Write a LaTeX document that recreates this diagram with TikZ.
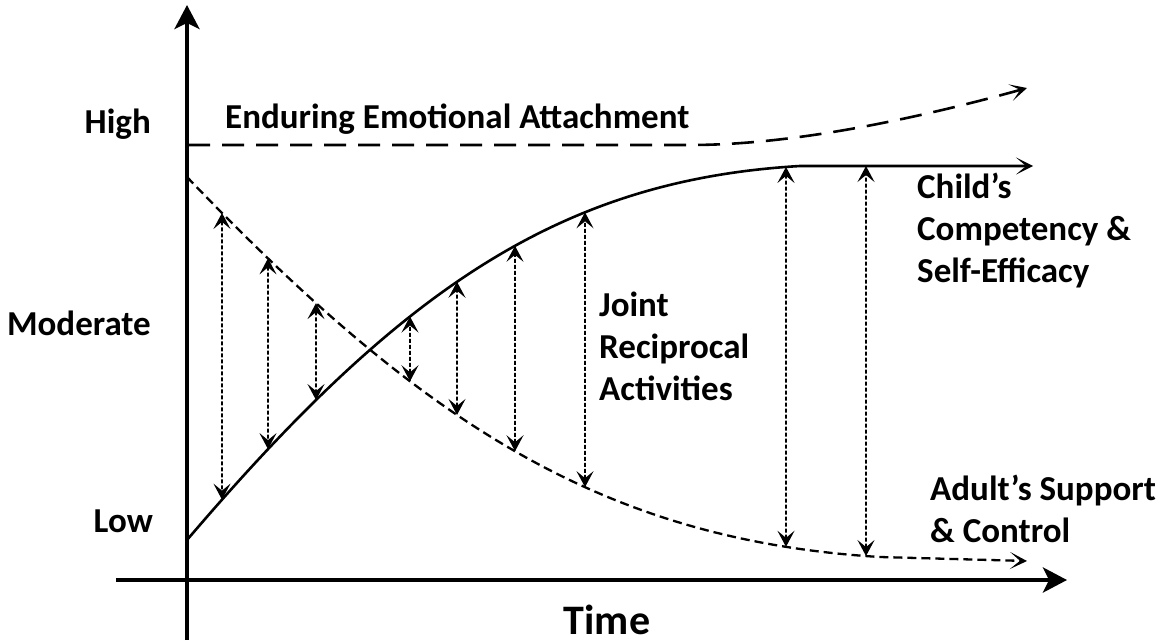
\documentclass[tikz,border=0pt]{standalone}
\usepackage{fontspec}
\setmainfont{Carlito}
\usetikzlibrary{arrows.meta,intersections}

\begin{document}
\begin{tikzpicture}[x=1pt, y=-1pt, font=\fontsize{35}{42}\selectfont\bfseries, align=left]
    \tikzstyle{every node}+=[inner sep=0pt]
    \tikzstyle{axis}=[line width=4pt, -{Stealth[length=24pt,width=25pt,inset=6pt]}]
    \tikzstyle{curve}=[line width=2.6pt, -{Stealth[length=17pt,width=17pt,inset=10pt]}]
    \tikzstyle{gap}=[line width=1.7pt, dash pattern=on 4pt off 2pt, {Stealth[length=16pt,width=17pt,inset=7pt]}-{Stealth[length=16pt,width=17pt,inset=7pt]}]
    \useasboundingbox (0,0) rectangle (1164,643);
    \coordinate (ytop) at (187,5);
    \coordinate (ybot) at (187,640);
    \coordinate (xl) at (116,580);
    \coordinate (xr) at (1067,580);
    \draw [axis] (ybot) -- (ytop);
    \draw [axis] (xl) -- (xr);
    \coordinate (c0) at (187,540);
    \coordinate (c9) at (1033,166);
    \coordinate (a0) at (187,177);
    \coordinate (a9) at (1027,561);
    \coordinate (e0) at (188,145);
    \coordinate (e9) at (1027,88);
    \draw [curve, dash pattern=on 22pt off 12pt] (e0) -- (690,145) .. controls (800,145) and (930,115) .. (e9);
    \draw [curve, name path=child] (c0) .. controls (400,290) and (560,180) .. (800,166) -- (c9);
    \draw [curve, line width=2.3pt, dash pattern=on 9pt off 5pt, name path=adult] (a0) .. controls (420,420) and (600,540) .. (880,557) -- (a9);
    \foreach \x [count=\i] in {222,268,316,410,457,515,585,786,866} {
        \path [name path=v\i] (\x,0) -- (\x,643);
        \path [name intersections={of=child and v\i, by=c\i}];
        \path [name intersections={of=adult and v\i, by=a\i}];
        \draw [gap] (a\i) -- (c\i);
    }
    \node [anchor=base east] (high) at (151,133) {High};
    \node [anchor=base east] (moderate) at (151,335) {Moderate};
    \node [anchor=base east] (low) at (153,532) {Low};
    \node [anchor=base west] (enduring) at (225,128) {Enduring Emotional Attachment};
    \node [anchor=base west] (childs) at (917,282) {Child’s\\Competency \&\\Self-Efficacy};
    \node [anchor=base west] (joint) at (599,400) {Joint\\Reciprocal\\Activities};
    \node [anchor=base west] (adults) at (930,542) {Adult’s Support\\\& Control};
    \node [anchor=base] (time) at (607,634) {\fontsize{42}{42}\selectfont Time};
\end{tikzpicture}
\end{document}
